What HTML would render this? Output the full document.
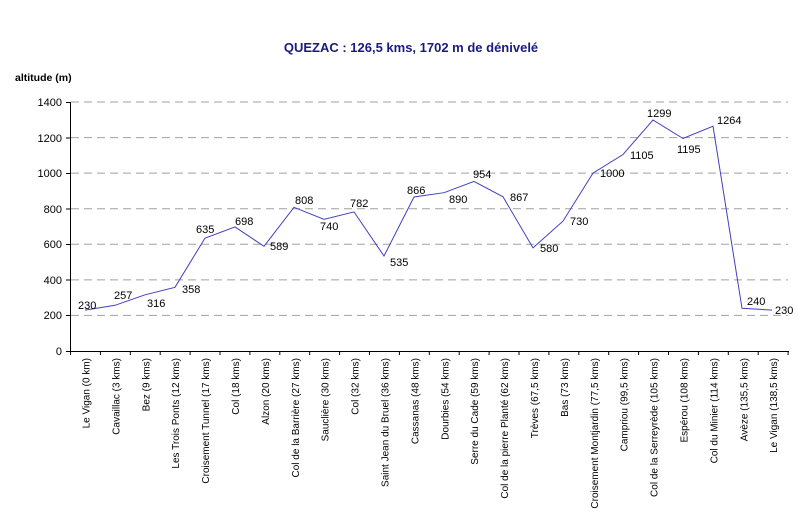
<!DOCTYPE html>
<html><head><meta charset="utf-8"><style>
html,body{margin:0;padding:0;background:#fff;}
svg{display:block;font-family:"Liberation Sans",Arial,sans-serif;}
</style></head><body>
<svg width="800" height="530" viewBox="0 0 800 530" xmlns="http://www.w3.org/2000/svg">
<rect width="800" height="530" fill="#fff"/>
<text x="411" y="52" text-anchor="middle" font-size="13" font-weight="bold" fill="#1a1a80">QUEZAC : 126,5 kms, 1702 m de dénivelé</text>
<text x="15" y="81" font-size="10.5" font-weight="bold" fill="#000">altitude (m)</text>
<g stroke="#a0a0a0" stroke-dasharray="8,5" stroke-width="1">
<line x1="71" y1="102" x2="788" y2="102"/>
<line x1="71" y1="137.6" x2="788" y2="137.6"/>
<line x1="71" y1="173.1" x2="788" y2="173.1"/>
<line x1="71" y1="208.7" x2="788" y2="208.7"/>
<line x1="71" y1="244.3" x2="788" y2="244.3"/>
<line x1="71" y1="279.9" x2="788" y2="279.9"/>
<line x1="71" y1="315.4" x2="788" y2="315.4"/>
</g>
<g stroke="#000" stroke-width="1">
<line x1="70.5" y1="102" x2="70.5" y2="351"/>
<line x1="70" y1="351.5" x2="789" y2="351.5"/>
<line x1="66" y1="102.5" x2="70" y2="102.5"/>
<line x1="66" y1="138" x2="70" y2="138"/>
<line x1="66" y1="173.5" x2="70" y2="173.5"/>
<line x1="66" y1="209" x2="70" y2="209"/>
<line x1="66" y1="244.5" x2="70" y2="244.5"/>
<line x1="66" y1="280" x2="70" y2="280"/>
<line x1="66" y1="315.5" x2="70" y2="315.5"/>
<line x1="66" y1="351.5" x2="70" y2="351.5"/>
</g>
<g id="xt" stroke="#000"></g>
<g font-size="11" fill="#000" text-anchor="end">
<text x="62" y="106">1400</text><text x="62" y="142">1200</text><text x="62" y="177">1000</text>
<text x="62" y="213">800</text><text x="62" y="248">600</text><text x="62" y="284">400</text>
<text x="62" y="319">200</text><text x="62" y="355">0</text>
</g>
<polyline fill="none" stroke="#4040c0" stroke-width="1" points="85,310.1 115,305.3 145,294.8 175,287.3 205,238.1 235,226.9 264,246.3 294,207.3 324,219.4 354,211.9 384,256.0 414,197.0 444,192.7 474,181.4 503,196.8 533,247.9 563,221.1 593,173.1 623,154.5 653,120.0 683,138.5 713,126.2 742,308.3 772,310.1"/>
<g font-size="11" fill="#000">
<text x="78" y="309">230</text><text x="114" y="299">257</text><text x="147" y="307">316</text>
<text x="182" y="293">358</text><text x="196" y="233">635</text><text x="235" y="225">698</text>
<text x="270" y="250">589</text><text x="295" y="204">808</text><text x="320" y="230">740</text>
<text x="350" y="207">782</text><text x="390" y="266">535</text><text x="407" y="194">866</text>
<text x="449" y="203">890</text><text x="473" y="178">954</text><text x="510" y="201">867</text>
<text x="540" y="252">580</text><text x="570" y="225">730</text><text x="600" y="177">1000</text>
<text x="630" y="159">1105</text><text x="647" y="117">1299</text><text x="677" y="153">1195</text>
<text x="717" y="124">1264</text><text x="747" y="305">240</text><text x="775" y="314">230</text>
</g>
<g font-size="10" fill="#000" text-anchor="end" id="xl"></g>
<script>
var names=["Le Vigan (0 km)","Cavaillac (3 kms)","Bez (9 kms)","Les Trois Ponts (12 kms)","Croisement Tunnel (17 kms)","Col (18 kms)","Alzon (20 kms)","Col de la Barrière (27 kms)","Sauclière (30 kms)","Col (32 kms)","Saint Jean du Bruel (36 kms)","Cassanas (48 kms)","Dourbies (54 kms)","Serre du Cade (59 kms)","Col de la pierre Planté (62 kms)","Trèves (67,5 kms)","Bas (73 kms)","Croisement Montjardin (77,5 kms)","Campriou (99,5 kms)","Col de la Serreyrède (105 kms)","Espérou (108 kms)","Col du Minier (114 kms)","Avèze (135,5 kms)","Le Vigan (138,5 kms)"];
var ns="http://www.w3.org/2000/svg",xl=document.getElementById("xl"),xt=document.getElementById("xt");
for(var i=0;i<=24;i++){var x=70.5+i*29.9;var l=document.createElementNS(ns,"line");l.setAttribute("x1",x);l.setAttribute("x2",x);l.setAttribute("y1",351);l.setAttribute("y2",355);xt.appendChild(l);}
names.forEach(function(n,i){var x=85.5+i*29.9+4;var t=document.createElementNS(ns,"text");t.setAttribute("transform","translate("+x+",358) rotate(-90)");t.textContent=n;xl.appendChild(t);});
</script>
</svg>
</body></html>
